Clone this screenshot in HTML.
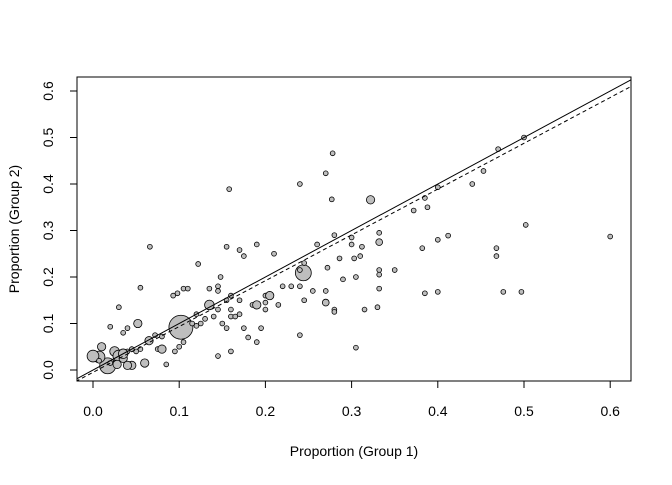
<!DOCTYPE html>
<html><head><meta charset="utf-8"><style>
body{margin:0;background:#fff}
svg text{font-family:"Liberation Sans",Arial,sans-serif;font-size:13px;fill:#000}
svg text.tk{font-size:14px}
</style></head><body>
<svg id="chart" width="672" height="480" viewBox="0 0 672 480" xmlns="http://www.w3.org/2000/svg">
<g id="marks"></g>
<g id="axes"></g>
</svg>
<script>
const xVals=[0.102,0.244,0.017,0.007,0.158,0.278,0.27,0.24,0.277,0.322,0.5,0.47,0.453,0.44,0.40,0.385,0.388,0.372,0.412,0.40,0.382,0.332,0.332,0.30,0.30,0.312,0.31,0.303,0.28,0.286,0.26,0.272,0.245,0.24,0.6,0.502,0.468,0.468,0.497,0.476,0.40,0.385,0.332,0.332,0.332,0.35,0.305,0.305,0.33,0.315,0.28,0.28,0.27,0.245,0.24,0.255,0.29,0.27,0.215,0.21,0.19,0.17,0.175,0.155,0.148,0.145,0.145,0.135,0.122,0.105,0.11,0.098,0.093,0.066,0.055,0.03,0.02,0.035,0.04,0.052,0.072,0.08,0.065,0.075,0.085,0.095,0.1,0.105,0.12,0.125,0.13,0.135,0.145,0.15,0.155,0.16,0.16,0.17,0.175,0.18,0.185,0.19,0.2,0.2,0.16,0.16,0.145,0.19,0.195,0.205,0.22,0.23,0.24,0.2,0.17,0.155,0.12,0.115,0.14,0.165,0.0,0.01,0.007,0.025,0.03,0.035,0.04,0.045,0.05,0.055,0.045,0.04,0.06,0.028,0.02,0.08,0.035];
const yVals=[0.092,0.209,0.009,0.028,0.389,0.466,0.423,0.40,0.367,0.366,0.5,0.475,0.428,0.40,0.393,0.37,0.35,0.343,0.289,0.28,0.262,0.295,0.275,0.285,0.27,0.265,0.245,0.24,0.29,0.24,0.27,0.22,0.23,0.215,0.287,0.312,0.262,0.245,0.168,0.168,0.168,0.165,0.215,0.205,0.175,0.215,0.2,0.048,0.135,0.13,0.13,0.125,0.145,0.15,0.075,0.17,0.195,0.17,0.14,0.25,0.27,0.258,0.245,0.265,0.2,0.18,0.17,0.175,0.228,0.175,0.175,0.165,0.16,0.265,0.177,0.135,0.093,0.08,0.09,0.1,0.075,0.072,0.063,0.045,0.012,0.04,0.05,0.06,0.095,0.1,0.11,0.14,0.13,0.1,0.09,0.16,0.13,0.12,0.09,0.07,0.14,0.14,0.13,0.16,0.115,0.04,0.03,0.06,0.09,0.16,0.18,0.18,0.18,0.145,0.15,0.15,0.12,0.1,0.115,0.115,0.03,0.05,0.02,0.04,0.03,0.025,0.04,0.045,0.04,0.045,0.01,0.01,0.015,0.012,0.015,0.045,0.035];
const sizes=[25,11,11,6,1,1,1,1,1,3,1,1,1,1,1,1,1,1,1,1,1,1,2,1,1,1,1,1,1,1,1,1,1,1,1,1,1,1,1,1,1,1,1,1,1,1,1,1,1,1,1,1,2,1,1,1,1,1,1,1,1,1,1,1,1,1,1,1,1,1,1,1,1,1,1,1,1,1,1,3,1,1,3,1,1,1,1,1,1,1,1,4,1,1,1,1,1,1,1,1,1,3,1,1,1,1,1,1,1,3,1,1,1,1,1,1,1,1,1,1,6,3,1,4,6,3,1,1,1,1,3,3,3,3,1,3,4];
const xTicks=["0.0","0.1","0.2","0.3","0.4","0.5","0.6"];
const yTicks=["0.0","0.1","0.2","0.3","0.4","0.5","0.6"];
const fitIntercept=-0.005, fitSlope=0.985;
const L=77,R=631,T=77,B=381;
const sx=v=>93+v*862, sy=v=>370-v*465;
const NS="http://www.w3.org/2000/svg";
function mk(t,a,p){const e=document.createElementNS(NS,t);for(const k in a)e.setAttribute(k,a[k]);p.appendChild(e);return e;}
const marks=document.getElementById('marks'),axes=document.getElementById('axes');
const cp=mk('clipPath',{id:'cp'},document.getElementById('chart'));mk('rect',{x:L,y:T,width:R-L,height:B-T},cp);
marks.setAttribute('clip-path','url(#cp)');
xVals.forEach((x,i)=>{const c=mk('circle',{cx:sx(x),cy:sy(yVals[i]),r:2.4*Math.sqrt(sizes[i]),fill:'#bebebe',stroke:'#000','stroke-width':0.8},marks);

});
const x0=-0.02,x1=0.63;
const idl=mk('line',{x1:sx(x0),y1:sy(x0),x2:sx(x1),y2:sy(x1),stroke:'#000','stroke-width':1},marks);


const fl=mk('line',{x1:sx(x0),y1:sy(fitIntercept+fitSlope*x0),x2:sx(x1),y2:sy(fitIntercept+fitSlope*x1),stroke:'#000','stroke-width':1,'stroke-dasharray':'4,3'},marks);


const box=mk('rect',{x:L,y:T,width:R-L,height:B-T,fill:'none',stroke:'#000'},axes);


mk('line',{x1:sx(0),y1:B,x2:sx(0.6),y2:B,stroke:'#000'},axes);
xTicks.forEach((t,i)=>{const x=sx(i/10);mk('line',{x1:x,y1:B,x2:x,y2:B+7,stroke:'#000'},axes);
const e=mk('text',{x:x,y:B+35,'text-anchor':'middle','class':'tk'},axes);e.textContent=t;

});
mk('line',{x1:L,y1:sy(0),x2:L,y2:sy(0.6),stroke:'#000'},axes);
yTicks.forEach((t,i)=>{const y=sy(i/10);mk('line',{x1:L,y1:y,x2:L-7,y2:y,stroke:'#000'},axes);
const e=mk('text',{x:L-24,y:y,'text-anchor':'middle','class':'tk',transform:`rotate(-90 ${L-24} ${y})`},axes);e.textContent=t;

});
const xt=mk('text',{x:354,y:456,'text-anchor':'middle','class':'tk'},axes);xt.textContent='Proportion (Group 1)';


const yt=mk('text',{x:19,y:229,'text-anchor':'middle','class':'tk',transform:'rotate(-90 19 229)'},axes);yt.textContent='Proportion (Group 2)';


</script>
</body></html>
